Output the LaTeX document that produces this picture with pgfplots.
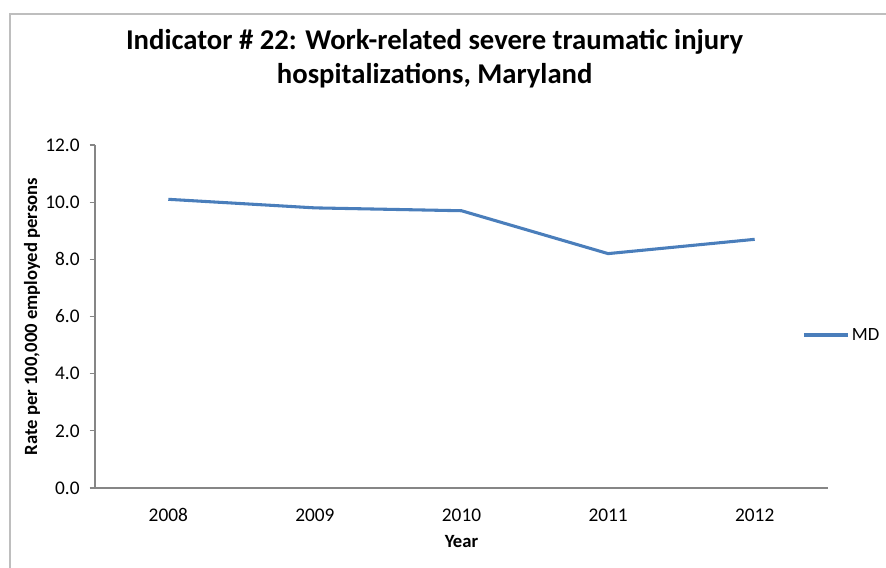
\documentclass[border=0pt]{standalone}
\usepackage{pgfplots}
\pgfplotsset{compat=1.18}
\usepackage{fontspec}
\setmainfont{Carlito}
\definecolor{exblue}{RGB}{74,126,187}
\definecolor{axgray}{RGB}{134,134,134}
\definecolor{bordergray}{RGB}{190,190,190}
\begin{document}
\begin{tikzpicture}
\useasboundingbox (0pt,0pt) rectangle (664.5pt,426pt);
\draw[bordergray,line width=1.5pt] (7.5pt,0pt) -- (7.5pt,415.5pt) -- (664.5pt,415.5pt);
\node[font=\bfseries\fontsize{21.5}{26}\selectfont,align=center,inner sep=0pt] at (326pt,382pt)
  {Indicator \# 22: Work-related severe traumatic injury\\hospitalizations, Maryland};
\begin{axis}[
  at={(71.25pt,60pt)}, anchor=south west,
  scale only axis, width=549.75pt, height=257.25pt,
  xmin=-0.5, xmax=4.5, ymin=0, ymax=12,
  xtick={0,1,2,3,4}, xticklabels={2008,2009,2010,2011,2012},
  extra x ticks={-0.5,0.5,1.5,2.5,3.5,4.5}, extra x tick labels={},
  extra x tick style={major tick length=4pt, tick style={axgray,line width=0.8pt}},
  xtick style={draw=none},
  ytick={0,2,4,6,8,10,12},
  yticklabel={\pgfmathprintnumber[fixed,fixed zerofill,precision=1]{\tick}},
  /pgf/number format/assume math mode=true,
  axis x line*=bottom, axis y line*=left,
  axis line style={axgray,line width=0.8pt,-},
  ytick style={axgray,line width=0.8pt},
  major tick length=4pt,
  tick align=outside,
  tick label style={font=\fontsize{14.5}{16}\selectfont},
  xticklabel style={yshift=-8pt},
  yticklabel style={xshift=-4pt},
  xlabel={\textbf{Year}},
  xlabel style={font=\fontsize{14}{16}\selectfont, at={(axis description cs:0.5,-0.157)}, anchor=center},
  ylabel={\textbf{Rate per 100,000 employed persons}},
  ylabel style={font=\fontsize{14}{16}\selectfont, at={(axis description cs:-0.086,0.5)}, anchor=center, rotate=0},
  legend style={draw=none, fill=none, at={(axis description cs:0.9645,0.446)}, anchor=west,
    font=\fontsize{14}{16}\selectfont, inner sep=0pt},
  legend image code/.code={\draw[#1] (0pt,0pt) -- (33pt,0pt);},
]
\addplot[exblue, line width=2.3pt, line join=round] coordinates {
  (0,10.1) (1,9.8) (2,9.7) (3,8.2) (4,8.7)};
\addlegendentry{MD}
\end{axis}
\end{tikzpicture}
\end{document}
